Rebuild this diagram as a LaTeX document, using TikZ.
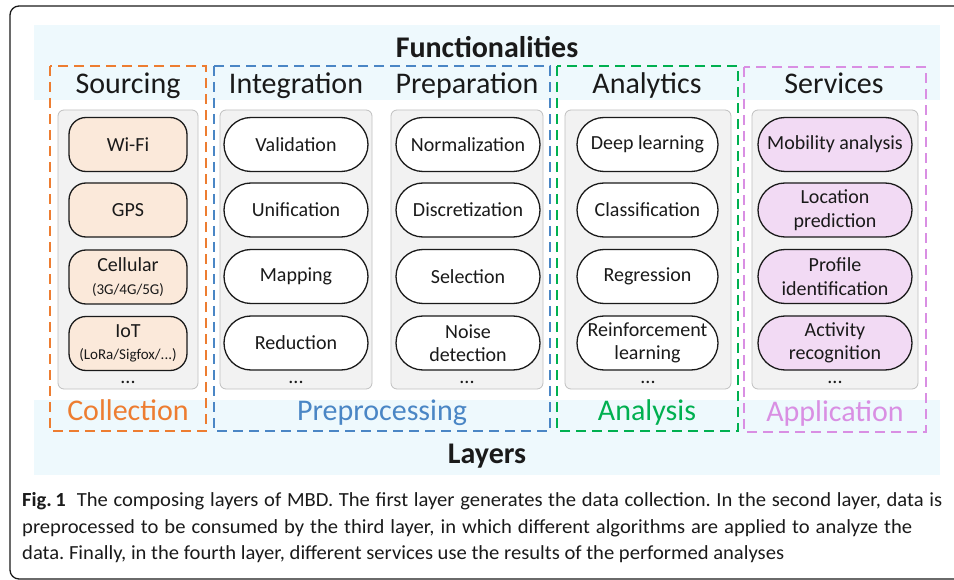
\documentclass[tikz,border=0pt]{standalone}
\usepackage{fontspec}
\setmainfont{Carlito}
\newfontfamily\capfont[FakeStretch=1.03]{Carlito}
\definecolor{bandblue}{HTML}{EEF9FD}
\definecolor{corange}{HTML}{ED7D31}
\definecolor{cblue}{HTML}{4A86C5}
\definecolor{cgreen}{HTML}{00B050}
\definecolor{cviolet}{HTML}{D98FE3}
\definecolor{panelgray}{HTML}{F2F2F2}
\definecolor{panelborder}{HTML}{BFBFBF}
\definecolor{peach}{HTML}{FBE9DA}
\definecolor{lilac}{HTML}{F2DAF4}
\definecolor{txt}{HTML}{1A1A1A}
\tikzset{
  layerbox/.style={line width=2.3pt, dash pattern=on 10pt off 6pt},
  panel/.style={draw=panelborder, fill=panelgray, line width=0.8pt, rounded corners=6pt},
  pill/.style={draw=txt, line width=1.3pt, rounded corners=27pt, minimum height=54pt, inner sep=0pt, align=center, font=\fontsize{20}{23.5}\selectfont, text=txt},
  srcpill/.style={pill, fill=peach, rounded corners=17pt, minimum width=118pt},
  intpill/.style={pill, fill=white, minimum width=144pt},
  anapill/.style={pill, fill=white, minimum width=141pt},
  srvpill/.style={pill, fill=lilac, minimum width=154pt},
  coltitle/.style={anchor=base, inner sep=0pt, font=\fontsize{30}{36}\selectfont, text=txt},
  layername/.style={anchor=base, inner sep=0pt, font=\fontsize{30}{36}\selectfont},
  bigbold/.style={anchor=base, inner sep=0pt, font=\fontsize{30}{36}\selectfont\bfseries, text=txt},
  dots/.style={anchor=base, inner sep=0pt, font=\fontsize{20}{24}\selectfont, text=txt},
  capline/.style={anchor=base west, inner sep=0pt, font=\capfont\fontsize{20}{24}\selectfont\frenchspacing, text=txt}
}
\begin{document}
\begin{tikzpicture}[x=1pt,y=-1pt]
\useasboundingbox (0,0) rectangle (954,580);
\begin{scope}
  \clip (0,0) rectangle (954,580);
  \draw[line width=1.3pt, rounded corners=9pt, draw=txt] (10,6) rectangle (1000,579);
\end{scope}
% bands
\fill[bandblue] (34,25) rectangle (940,100);
\fill[bandblue] (34,400) rectangle (940,475);
\node[bigbold] (func) at (487,58) {Functionalities};
\node[bigbold] (layers) at (487,463) {Layers};
% dashed layer boxes
\draw[layerbox, corange] (50,66) rectangle (206,431);
\draw[layerbox, cblue] (214,66) rectangle (550,431);
\draw[layerbox, cgreen] (557,66) rectangle (738,431);
\draw[layerbox, cviolet] (744,67) rectangle (926,432);
% titles
\node[coltitle] (tsrc) at (128,94) {Sourcing};
\node[coltitle] (tint) at (296,94) {Integration};
\node[coltitle] (tprep) at (467,94) {Preparation};
\node[coltitle] (tana) at (647,94) {Analytics};
\node[coltitle] (tsrv) at (834,94) {Services};
% layer names
\node[layername, text=corange] (lcol) at (128,420) {Collection};
\node[layername, text=cblue] (lpre) at (382,420) {Preprocessing};
\node[layername, text=cgreen] (lana) at (647,420) {Analysis};
\node[layername, text=cviolet] (lapp) at (835,421) {Application};
% panels
\draw[panel] (58,110) rectangle (198,389);
\draw[panel] (220,110) rectangle (372,389);
\draw[panel] (391,110) rectangle (543,389);
\draw[panel] (565,110) rectangle (731,389);
\draw[panel] (752,110) rectangle (918,389);
% sourcing
\node[srcpill] (wifi) at (128,144.5) {Wi-Fi};
\node[srcpill] (gps) at (128,210) {GPS};
\node[srcpill] (cell) at (128,277) {Cellular\\[-1pt]{\fontsize{15}{18}\selectfont (3G/4G/5G)}};
\node[srcpill] (iot) at (128,343.5) {IoT\\[-1pt]{\fontsize{15}{18}\selectfont (LoRa/Sigfox/...)}};
\node[dots] (d1) at (128,384) {...};
% integration
\node[intpill] (val) at (296,144.5) {Validation};
\node[intpill] (uni) at (296,210) {Unification};
\node[intpill] (map) at (296,276.5) {Mapping};
\node[intpill] (red) at (296,343) {Reduction};
\node[dots] (d2) at (296,384) {...};
% preparation
\node[intpill] (nor) at (468,144.5) {Normalization};
\node[intpill] (dis) at (468,210) {Discretization};
\node[intpill] (sel) at (468,276.5) {Selection};
\node[intpill] (noi) at (468,343) {Noise\\detection};
\node[dots] (d3) at (467,384) {...};
% analytics
\node[anapill] (deep) at (647.5,144.5) {Deep learning};
\node[anapill] (cla) at (647.5,210) {Classification};
\node[anapill] (reg) at (647.5,276.5) {Regression};
\node[anapill] (rei) at (647.5,343) {Reinforcement\\learning};
\node[dots] (d4) at (648,384) {...};
% services
\node[srvpill] (mob) at (835,144.5) {Mobility analysis};
\node[srvpill] (loc) at (835,210) {Location\\prediction};
\node[srvpill] (pro) at (835,276.5) {Profile\\identification};
\node[srvpill] (act) at (835,343) {Activity\\recognition};
\node[dots] (d5) at (835,384) {...};
% caption
\node[capline] (c1) at (22,506) {\hbox to 920pt{\textbf{Fig.\,1}\hspace{11pt}The composing layers of MBD. The first layer generates the data collection. In the second layer, data is}};
\node[capline] (c2) at (22,533) {\hbox to 890pt{preprocessed to be consumed by the third layer, in which different algorithms are applied to analyze the}};
\node[capline] (c3) at (22,559) {data. Finally, in the fourth layer, different services use the results of the performed analyses};
\end{tikzpicture}
\end{document}
